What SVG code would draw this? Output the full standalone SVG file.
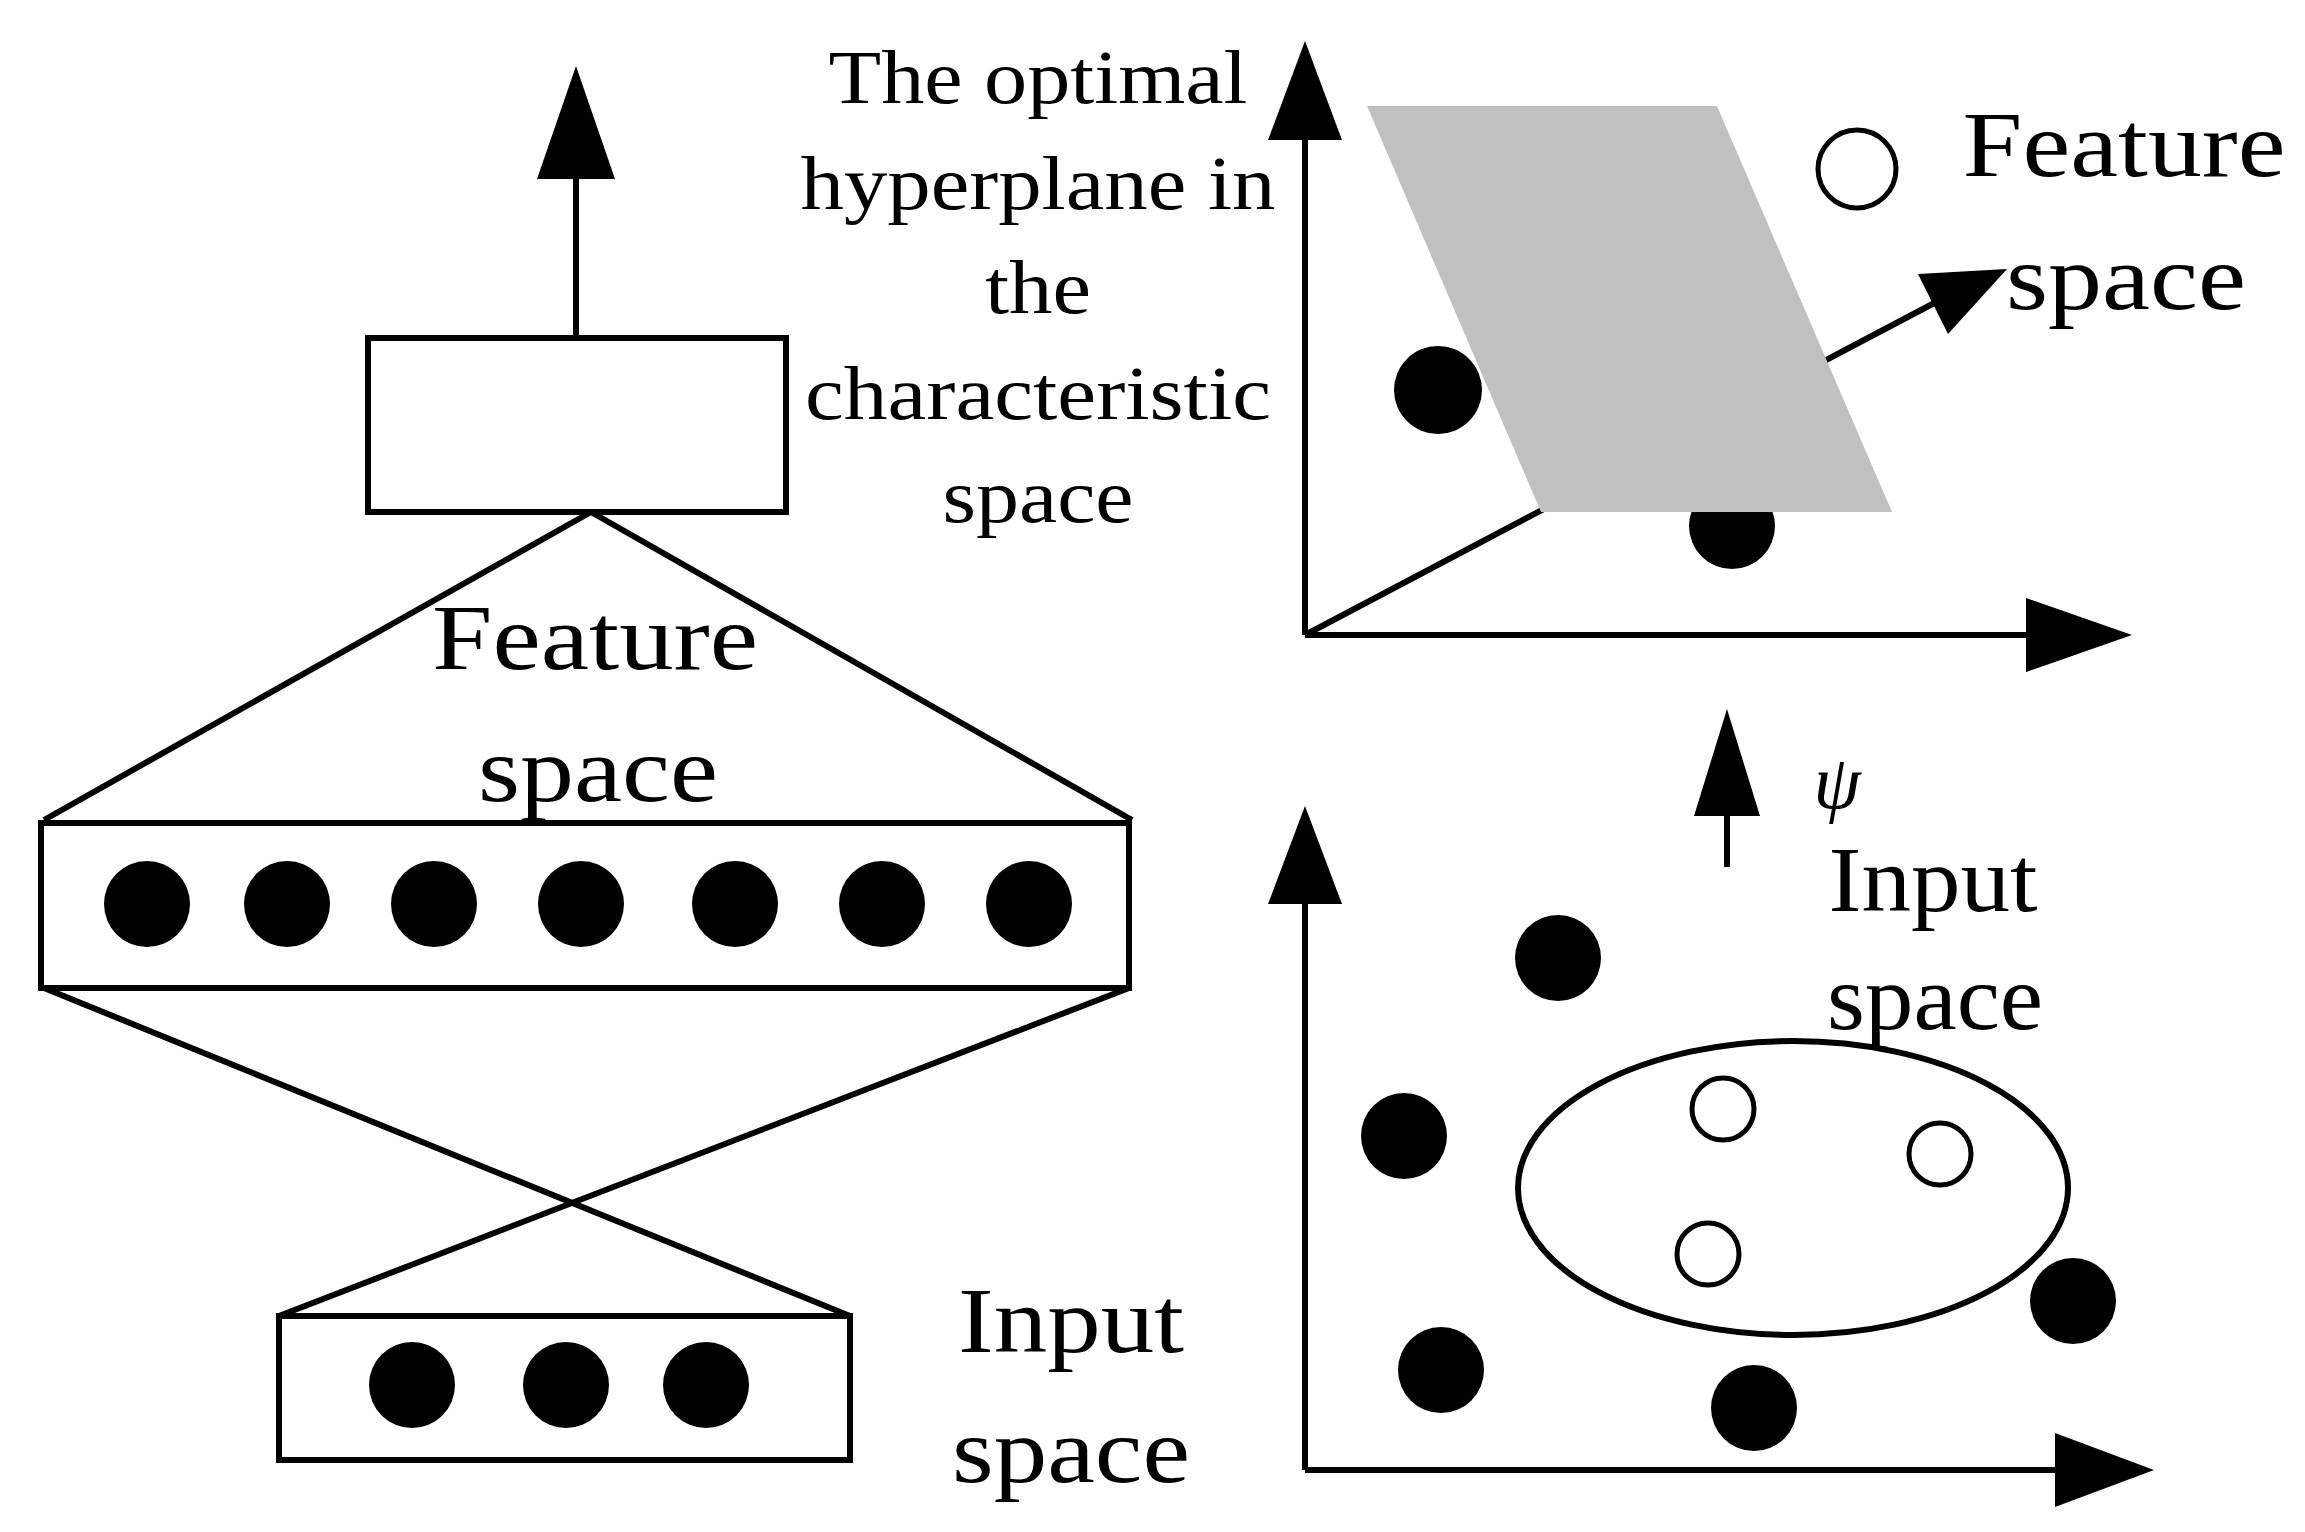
<svg xmlns="http://www.w3.org/2000/svg" width="2305" height="1532" viewBox="0 0 2305 1532">
<style>
.s{fill:none;stroke:#000;stroke-width:6}
.d{fill:#000}
.o{fill:#fff;stroke:#000;stroke-width:5}
text{font-family:"Liberation Serif",serif;fill:#000;text-anchor:middle}
.b{font-size:94px}
.m{font-size:76px}
</style>
<rect width="2305" height="1532" fill="#fff"/>
<g id="connectors">
<line class="s" x1="576" y1="338" x2="576" y2="170"/>
<polygon class="d" points="576,66 537,179 615,179"/>
<line class="s" x1="591" y1="512" x2="44" y2="820"/>
<line class="s" x1="591" y1="512" x2="1132" y2="820"/>
<line class="s" x1="44" y1="988" x2="850" y2="1316"/>
<line class="s" x1="1129" y1="988" x2="279" y2="1316"/>
<line class="s" x1="1727" y1="867" x2="1727" y2="810"/>
<polygon class="d" points="1727,709 1694,816 1760,816"/>
</g>
<g id="output-box"><rect class="s" x="368" y="338" width="418" height="174"/></g>
<g id="feature-layer">
<rect class="s" x="41" y="823" width="1088" height="165"/>
<circle class="d" cx="147" cy="904" r="43"/><circle class="d" cx="287" cy="904" r="43"/><circle class="d" cx="434" cy="904" r="43"/><circle class="d" cx="581" cy="904" r="43"/><circle class="d" cx="735" cy="904" r="43"/><circle class="d" cx="882" cy="904" r="43"/><circle class="d" cx="1029" cy="904" r="43"/>
</g>
<g id="feature-label"><text class="b" x="595" y="669" textLength="326" lengthAdjust="spacingAndGlyphs">Feature</text><text class="b" x="598" y="801" textLength="240" lengthAdjust="spacingAndGlyphs">space</text></g>
<g id="input-layer">
<rect class="s" x="279" y="1316" width="571" height="144"/>
<circle class="d" cx="412" cy="1385" r="43"/><circle class="d" cx="566" cy="1385" r="43"/><circle class="d" cx="706" cy="1385" r="43"/>
</g>
<g id="input-label"><text class="b" x="1071" y="1352" textLength="226" lengthAdjust="spacingAndGlyphs">Input</text><text class="b" x="1071" y="1482" textLength="238" lengthAdjust="spacingAndGlyphs">space</text></g>
<g id="feature-plot">
<line class="s" x1="1305" y1="635" x2="1305" y2="130"/>
<polygon class="d" points="1305,41 1268,140 1342,140"/>
<line class="s" x1="1305" y1="635" x2="2035" y2="635"/>
<polygon class="d" points="2132,635 2026,598 2026,672"/>
<line class="s" x1="1305" y1="635" x2="1940" y2="300"/>
<polygon class="d" points="2007,269 1918,274 1948,334"/>
<circle class="d" cx="1438" cy="390" r="44"/>
<circle class="d" cx="1732" cy="526" r="43"/>
<polygon fill="#c0c0c0" points="1367,106 1717,106 1892,512 1541,512"/>
<circle class="o" cx="1857" cy="169" r="39"/>
</g>
<g id="hyperplane-label">
<text class="m" x="1038" y="103" textLength="419" lengthAdjust="spacingAndGlyphs">The optimal</text><text class="m" x="1038" y="209" textLength="475" lengthAdjust="spacingAndGlyphs">hyperplane in</text><text class="m" x="1038" y="313" textLength="106" lengthAdjust="spacingAndGlyphs">the</text><text class="m" x="1038" y="419" textLength="466" lengthAdjust="spacingAndGlyphs">characteristic</text><text class="m" x="1038" y="522" textLength="191" lengthAdjust="spacingAndGlyphs">space</text>
</g>
<g id="feature-space-label"><text class="b" x="2124" y="176" textLength="323" lengthAdjust="spacingAndGlyphs">Feature</text><text class="b" x="2126" y="309" textLength="240" lengthAdjust="spacingAndGlyphs">space</text></g>
<g id="psi-label"><text class="m" x="1837" y="808" font-style="italic">ψ</text></g>
<g id="input-space-label"><text class="b" x="1933" y="911" textLength="209" lengthAdjust="spacingAndGlyphs">Input</text><text class="b" x="1935" y="1029" textLength="216" lengthAdjust="spacingAndGlyphs">space</text></g>
<g id="input-plot">
<line class="s" x1="1305" y1="1470" x2="1305" y2="895"/>
<polygon class="d" points="1305,806 1268,904 1342,904"/>
<line class="s" x1="1305" y1="1470" x2="2065" y2="1470"/>
<polygon class="d" points="2154,1470 2055,1433 2055,1507"/>
<ellipse class="s" cx="1793" cy="1188" rx="275" ry="147"/>
<circle class="o" cx="1723" cy="1109" r="31"/><circle class="o" cx="1940" cy="1154" r="31"/><circle class="o" cx="1708" cy="1254" r="31"/>
<circle class="d" cx="1558" cy="958" r="43"/><circle class="d" cx="1404" cy="1136" r="43"/><circle class="d" cx="2073" cy="1301" r="43"/><circle class="d" cx="1441" cy="1370" r="43"/><circle class="d" cx="1754" cy="1408" r="43"/>
</g>
</svg>
